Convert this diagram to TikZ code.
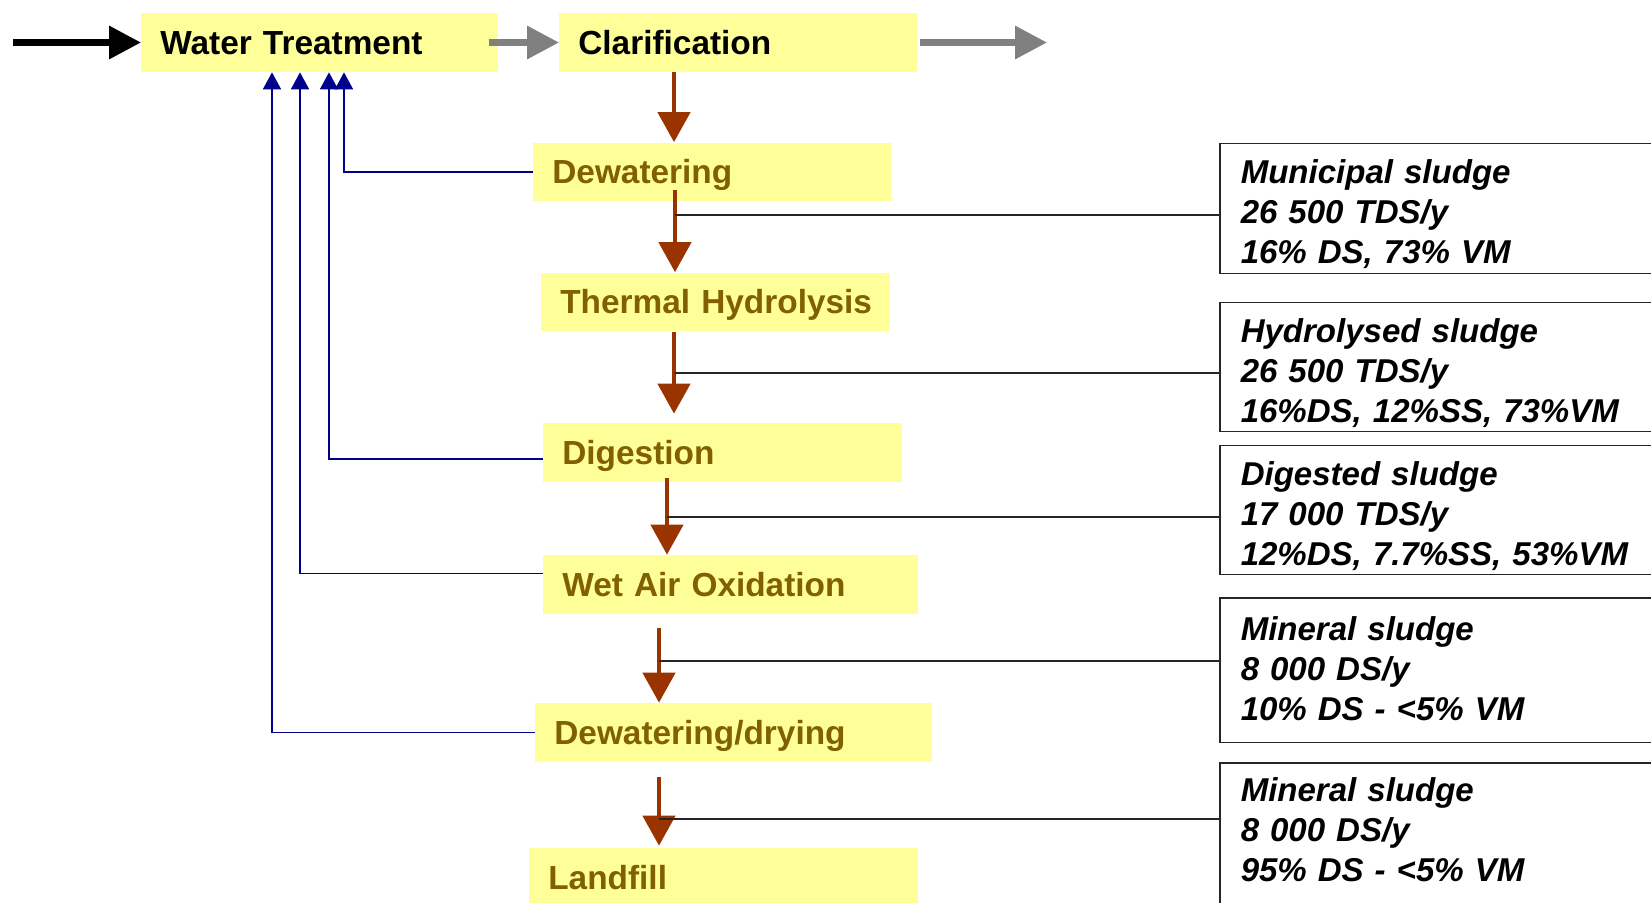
\documentclass[tikz,border=0pt]{standalone}
\usepackage{fontspec}
\setmainfont{Liberation Sans}
\usetikzlibrary{arrows.meta,calc}

\definecolor{boxyellow}{RGB}{255,255,153}
\definecolor{steptext}{RGB}{128,96,0}
\definecolor{sludgered}{RGB}{153,51,0}
\definecolor{returnblue}{RGB}{0,0,140}
\definecolor{flowgray}{RGB}{128,128,128}

\newcommand{\procfont}{\fontsize{19pt}{22pt}\selectfont\bfseries}
\newcommand{\notefont}{\fontsize{18.8pt}{22.8pt}\selectfont\bfseries\itshape}

\begin{document}
\begin{tikzpicture}[x=0.02cm, y=-0.02cm,
    proc/.style={fill=boxyellow, anchor=west, minimum height=1.18cm, inner xsep=0.38cm, inner ysep=0pt,
        text height=0.47cm, text depth=0pt, text width=#1, align=left, font=\procfont, text=steptext},
    note/.style={draw=black!85, line width=0.85pt, anchor=north west, inner xsep=0.42cm, inner ysep=0pt,
        text width=8.78cm, align=left, font=\notefont},
    mainflow/.style={line width=3.7pt, -{Triangle[length=0.64cm, width=0.64cm]}},
    sludge/.style={sludgered, line width=2.6pt, -{Triangle[length=0.6cm, width=0.64cm]}},
    return/.style={returnblue, line width=1pt, -{Triangle[length=0.34cm, width=0.36cm]}},
    link/.style={black!85, line width=0.85pt}]
 \path[use as bounding box, clip] (0,0) rectangle (1651,903);

 % process steps
 \node[proc=6.38cm, text=black] (wt)   at (141,42.5)  {Water Treatment};
 \node[proc=6.40cm, text=black] (clar) at (559,42.5)  {Clarification};
 \node[proc=6.40cm] (dew)  at (533,172)   {Dewatering};
 \node[proc=6.22cm] (th)   at (541,302)   {\mbox{Thermal Hydrolysis}};
 \node[proc=6.42cm] (dig)  at (543,452.5) {Digestion};
 \node[proc=6.74cm] (wao)  at (543,584.5) {Wet Air Oxidation};
 \node[proc=7.18cm] (dd)   at (535,732.5) {Dewatering/drying};
 \node[proc=7.02cm] (lf)   at (529,877.5) {Landfill};

 % sludge data
 \node[note, text height=0.8cm, text depth=1.8cm]   (n1) at (1219,143) {Municipal sludge\\26 500 TDS/y\\16\% DS, 73\% VM};
 \node[note, text height=0.8cm, text depth=1.78cm]  (n2) at (1219,302) {Hydrolysed sludge\\26 500 TDS/y\\16\%DS, 12\%SS, 73\%VM};
 \node[note, text height=0.8cm, text depth=1.78cm]  (n3) at (1219,445) {Digested sludge\\17 000 TDS/y\\12\%DS, 7.7\%SS, 53\%VM};
 \node[note, text height=0.86cm, text depth=2.04cm] (n4) at (1219,597) {Mineral sludge\\8 000 DS/y\\10\% DS - <5\% VM};
 \node[note, text height=0.78cm, text depth=2.4cm]  (n5) at (1219,762) {Mineral sludge\\8 000 DS/y\\95\% DS - <5\% VM};

 \coordinate (feed) at (13,42.5);
 \coordinate (exit) at (1047,42.5);
 \draw[mainflow] (feed) -- (wt.west);
 \draw[mainflow, flowgray] ([xshift=-0.2cm]wt.east) -- (clar.west);
 \draw[mainflow, flowgray] ([xshift=0.04cm]clar.east) -- (exit);

 \draw[sludge] ($(clar.south west)+(115,0)$) -- ($(dew.north west)+(141,0)$);
 \draw[sludge] ($(dew.south west)+(142,-12)$) -- ($(th.north west)+(134,0)$);
 \draw[sludge] ($(th.south west)+(133,0)$) -- ($(dig.north west)+(131,-9)$);
 \draw[sludge] ($(dig.south west)+(124,-4)$) -- ($(wao.north west)+(124,0)$);
 \draw[sludge] ($(wao.south west)+(116,14)$) -- ($(dd.north west)+(124,0)$);
 \draw[sludge] ($(dd.south west)+(124,15)$) -- ($(lf.north west)+(130,-2)$);

 \coordinate (j1) at (675,215);
 \coordinate (j2) at (675,373);
 \coordinate (j3) at (667,517);
 \coordinate (j4) at (659,661);
 \coordinate (j5) at (659,819);
 \draw[link] (j1) -- (j1 -| n1.west);
 \draw[link] (j2) -- (j2 -| n2.west);
 \draw[link] (j3) -- (j3 -| n3.west);
 \draw[link] (j4) -- (j4 -| n4.west);
 \draw[link] (j5) -- (j5 -| n5.west);

 % recycled streams
 \draw[return] (dew.west) -| ($(wt.south west)+(203,0)$);
 \draw[return] ([yshift=-0.13cm]dig.west) -| ($(wt.south west)+(188,0)$);
 \draw[return] ([yshift=0.22cm]wao.west) -| ($(wt.south west)+(159,0)$);
 \draw[return] (dd.west) -| ($(wt.south west)+(131,0)$);
\end{tikzpicture}
\end{document}
